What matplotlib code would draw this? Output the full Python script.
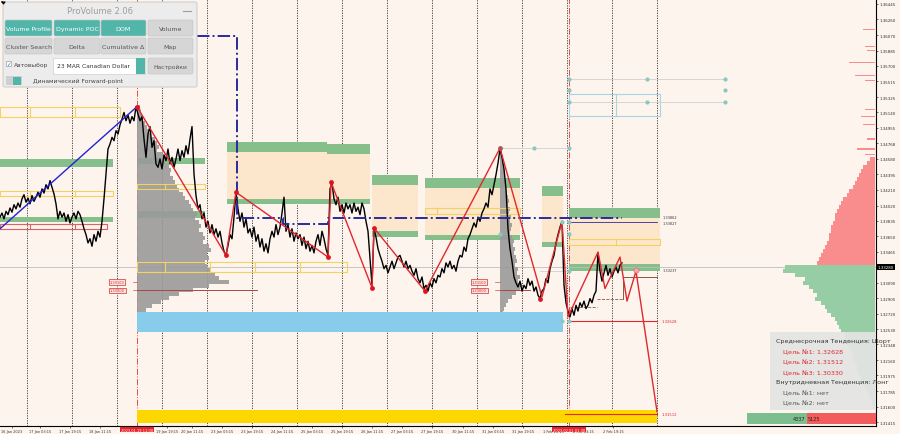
import numpy as np
import matplotlib.pyplot as plt
from matplotlib.patches import Rectangle, FancyBboxPatch

# ---------------- data ----------------
# price line, one value every 2 bars
close = [
    1.3388, 1.3393, 1.3386, 1.3395, 1.3391, 1.3399, 1.3394, 1.3403, 1.3398, 1.3405,
    1.3400, 1.3410, 1.3415, 1.3406, 1.3411, 1.3404, 1.3414, 1.3407, 1.3412, 1.3418,
    1.3412, 1.3422, 1.3417, 1.3427, 1.3422, 1.3432, 1.3424, 1.3416, 1.3404, 1.3386,
    1.3395, 1.3388, 1.3393, 1.3383, 1.3391, 1.3381, 1.3388, 1.3393, 1.3386, 1.3395,
    1.3391, 1.3383, 1.3374, 1.3367, 1.3357, 1.3362, 1.3353, 1.3367, 1.3359, 1.3371,
    1.3364, 1.3383, 1.3410, 1.3440, 1.3470, 1.3476, 1.3484, 1.3480, 1.3492, 1.3488,
    1.3499, 1.3506, 1.3514, 1.3504, 1.3511, 1.3501, 1.3509, 1.3504, 1.3521, 1.3512,
    1.3504, 1.3509, 1.3482, 1.3460, 1.3488, 1.3497, 1.3472, 1.3480, 1.3452, 1.3448,
    1.3458, 1.3446, 1.3463, 1.3456, 1.3470, 1.3452, 1.3460, 1.3448, 1.3458, 1.3470,
    1.3456, 1.3468, 1.3460, 1.3474, 1.3464, 1.3482, 1.3497, 1.3440, 1.3414, 1.3398,
    1.3403, 1.3386, 1.3393, 1.3376, 1.3383, 1.3369, 1.3379, 1.3367, 1.3374, 1.3364,
    1.3371, 1.3357, 1.3347, 1.3342, 1.3354, 1.3367, 1.3362, 1.3388, 1.3418, 1.3398,
    1.3383, 1.3393, 1.3376, 1.3386, 1.3369, 1.3374, 1.3364, 1.3376, 1.3359, 1.3367,
    1.3352, 1.3362, 1.3347, 1.3356, 1.3345, 1.3362, 1.3371, 1.3364, 1.3379, 1.3367,
    1.3376, 1.3393, 1.3412, 1.3371, 1.3379, 1.3364, 1.3374, 1.3359, 1.3369, 1.3362,
    1.3367, 1.3354, 1.3364, 1.3350, 1.3359, 1.3347, 1.3354, 1.3345, 1.3359, 1.3367,
    1.3354, 1.3371, 1.3362, 1.3350, 1.3342, 1.3422, 1.3429, 1.3410, 1.3403, 1.3412,
    1.3395, 1.3403, 1.3393, 1.3405, 1.3398, 1.3403, 1.3393, 1.3405, 1.3395, 1.3400,
    1.3391, 1.3405, 1.3398, 1.3383, 1.3371, 1.3338, 1.3306, 1.3374, 1.3364, 1.3350,
    1.3342, 1.3335, 1.3326, 1.3330, 1.3321, 1.3328, 1.3335, 1.3326, 1.3333, 1.3340,
    1.3342, 1.3335, 1.3328, 1.3335, 1.3326, 1.3330, 1.3323, 1.3318, 1.3326, 1.3314,
    1.3309, 1.3316, 1.3302, 1.3306, 1.3299, 1.3309, 1.3304, 1.3314, 1.3309, 1.3318,
    1.3316, 1.3326, 1.3321, 1.3333, 1.3328, 1.3335, 1.3326, 1.3330, 1.3323, 1.3335,
    1.3342, 1.3340, 1.3352, 1.3347, 1.3362, 1.3367, 1.3374, 1.3381, 1.3376, 1.3388,
    1.3383, 1.3393, 1.3398, 1.3405, 1.3400, 1.3422, 1.3415, 1.3427, 1.3439, 1.3453,
    1.3470, 1.3460, 1.3446, 1.3422, 1.3374, 1.3350, 1.3335, 1.3316, 1.3309, 1.3304,
    1.3311, 1.3299, 1.3306, 1.3302, 1.3314, 1.3306, 1.3311, 1.3299, 1.3304, 1.3294,
    1.3290, 1.3299, 1.3302, 1.3314, 1.3309, 1.3326, 1.3335, 1.3342, 1.3357, 1.3367,
    1.3376, 1.3383, 1.3306, 1.3285, 1.3275, 1.3268, 1.3278, 1.3270, 1.3282, 1.3275,
    1.3285, 1.3280, 1.3287, 1.3278, 1.3282, 1.3290, 1.3285, 1.3294, 1.3299, 1.3345,
    1.3323, 1.3311, 1.3321, 1.3330, 1.3318, 1.3326, 1.3316, 1.3323, 1.3328, 1.3321,
    1.3330, 1.3333,
]
bar_x = np.arange(len(close)) * 2

# zigzag
zz_x = [137, 226, 236, 328, 331, 372, 374, 425, 500, 542, 562, 568, 598, 605, 620, 627, 636, 657]
zz_p = [1.3521, 1.3342, 1.3418, 1.3340, 1.3430, 1.3303, 1.3375, 1.3299, 1.3471, 1.3292,
        1.3383, 1.3268, 1.3346, 1.3302, 1.3340, 1.3287, 1.3323, 1.3154]
dot_x = [137, 226, 236, 328, 331, 372, 374, 425, 540]
dot_p = [1.3521, 1.3342, 1.3418, 1.3340, 1.3430, 1.3303, 1.3375, 1.3299, 1.3290]

trend_x = [0, 137]
trend_p = [1.3374, 1.3521]

navy_x = [197, 237, 237, 283, 283, 328, 328, 622]
navy_p = [1.3606, 1.3606, 1.3387, 1.3387, 1.3380, 1.3380, 1.3387, 1.3387]

# zones: x0, x1, upper price, lower price
green_zones = [
    (0, 113, 1.3458, 1.3448), (0, 113, 1.3388, 1.3382),
    (137, 205, 1.3459, 1.3452), (137, 205, 1.3396, 1.3387),
    (227, 327, 1.3478, 1.3466), (327, 370, 1.3476, 1.3464), (227, 370, 1.3410, 1.3404),
    (372, 418, 1.3439, 1.3427), (372, 418, 1.3371, 1.3364),
    (425, 520, 1.3435, 1.3423), (425, 520, 1.3367, 1.3361),
    (542, 563, 1.3426, 1.3414), (542, 563, 1.3358, 1.3352),
    (569, 660, 1.3399, 1.3387), (569, 660, 1.3332, 1.3323),
]
orange_zones = [
    (227, 370, 1.3466, 1.3410), (372, 418, 1.3427, 1.3371), (425, 520, 1.3423, 1.3367),
    (542, 563, 1.3414, 1.3358), (569, 660, 1.3387, 1.3332),
]
yellow_boxes = [
    (0, 120, 1.3521, 1.3509, [30, 75]),
    (0, 113, 1.3420, 1.3414, [30, 75]),
    (137, 205, 1.3428, 1.3422, [165]),
    (137, 347, 1.3334, 1.3322, [165, 210, 255, 300]),
    (425, 520, 1.3399, 1.3392, [437]),
    (569, 660, 1.3362, 1.3354, [616]),
]
red_box = (0, 107, 1.3380, 1.3374, [30, 75])
blue_box = (569, 660, 1.3536, 1.3510, [616])
sky_zone = (137, 563, 1.3274, 1.3250)
gold_zone = (137, 657, 1.3156, 1.3140)

# volume profiles (bin size 0.00048)
prof_step = 0.00048
left_prof_top = 1.3521
left_prof = [3, 4, 5, 6, 8, 10, 12, 14, 18, 20, 22, 20, 26, 30, 28, 32, 34, 33, 36, 38,
             40, 42, 46, 48, 52, 54, 56, 60, 58, 62, 64, 62, 66, 68, 66, 72, 74, 70, 72, 68,
             70, 74, 78, 82, 92, 72, 56, 42, 32, 24, 15, 9, 6, 4, 3, 2, 2]
mid_prof_top = 1.3470
mid_prof = [2, 2, 3, 3, 3, 4, 4, 5, 5, 6, 6, 7, 8, 9, 8, 10, 9, 11, 10, 12,
            11, 10, 12, 14, 13, 15, 14, 16, 17, 15, 18, 17, 20, 18, 22, 20, 16, 12, 8, 6,
            4, 3, 2]
red_prof_top = 1.3458
red_prof = [5, 8, 12, 14, 16, 18, 20, 22, 26, 28, 32, 34, 36, 38, 40, 40, 42, 44, 44, 46,
            46, 48, 50, 52, 54, 56, 58]
green_prof_top = 1.3328
green_prof = [90, 92, 80, 70, 72, 66, 62, 58, 60, 54, 50, 48, 44, 40, 38, 36, 34, 30, 30, 28,
              26, 24, 22, 22, 20, 18, 18, 16, 14, 12, 10, 8, 6, 4, 3, 2]
red_sparse_p = [1.3614, 1.3593, 1.3588, 1.3574, 1.3559, 1.3552, 1.3518, 1.3509, 1.3499, 1.3482, 1.3470, 1.3463]
red_sparse_w = [12, 10, 8, 26, 20, 10, 10, 14, 12, 8, 18, 10]

buy_vol, sell_vol = 4337, 5125
current_price = 1.33280
targets = [1.32628, 1.31512, 1.30330]

teal_x = [569, 647, 725, 569, 725, 569, 647, 725, 534, 569, 569, 562, 569, 569, 562, 569, 500]
teal_p = [1.3554, 1.3554, 1.3554, 1.3541, 1.3541, 1.3527, 1.3527, 1.3527, 1.3471, 1.3471,
          1.3382, 1.3382, 1.3368, 1.3323, 1.3263, 1.3263, 1.3368]

grid_x = [27, 72, 117, 162, 207, 252, 297, 342, 387, 432, 477, 522, 567, 612, 657]
xtick_pos = [12, 40, 70, 100, 167, 192, 222, 252, 282, 312, 342, 372, 402, 432,
             463, 493, 523, 553, 583, 613]
xtick_lab = ['16 Jan 2023', '17 Jan 03:15', '17 Jan 19:15', '18 Jan 11:15', '19 Jan 19:15',
             '20 Jan 11:15', '23 Jan 03:15', '23 Jan 19:15', '24 Jan 11:15', '25 Jan 03:15',
             '25 Jan 19:15', '26 Jan 11:15', '27 Jan 03:15', '27 Jan 19:15', '30 Jan 11:15',
             '31 Jan 03:15', '31 Jan 19:15', '1 Feb 11:15', '2 Feb 03:15', '2 Feb 19:15']
red_dates = [(137, '2023.01.19 11:00'), (569, '2023.02.01 01:30')]
ytick_vals = [1.36445, 1.36260, 1.36070, 1.35885, 1.35700, 1.35515, 1.35325, 1.35140,
              1.34955, 1.34768, 1.34580, 1.34395, 1.34210, 1.34020, 1.33835, 1.33650,
              1.33465, 1.33090, 1.32905, 1.32720, 1.32530, 1.32348, 1.32160, 1.31975,
              1.31785, 1.31600, 1.31415]

# ---------------- plot ----------------
bg = '#FDF4EE'
fig = plt.figure(figsize=(9, 4.35), dpi=100, facecolor=bg)
ax = fig.add_axes([0, 8 / 435, 876 / 900, 427 / 435])
ax.set_facecolor(bg)
ax.set_xlim(0, 876)
ax.set_ylim(1.31367, 1.36505)

for g in grid_x:
    ax.axvline(g, color='#333333', lw=0.6, ls=(0, (1.5, 1.5)), zorder=1)
for x, _ in red_dates:
    ax.axvline(x, color='#E05050', lw=0.7, ls='-.', zorder=1.2)

for x0, x1, top, bot in orange_zones:
    ax.add_patch(Rectangle((x0, bot), x1 - x0, top - bot, fc='#FCE7CC', ec='none', zorder=1.1))
for x0, x1, top, bot in green_zones:
    ax.add_patch(Rectangle((x0, bot), x1 - x0, top - bot, fc='#86BE8C', ec='none', zorder=1.3))

# gray profiles
lv = left_prof_top - prof_step * np.arange(len(left_prof))
ax.barh(lv, left_prof, left=137, height=prof_step, color='#9A9A9A', alpha=0.9, lw=0, zorder=2)
mv = mid_prof_top - prof_step * np.arange(len(mid_prof))
ax.barh(mv, mid_prof, left=500, height=prof_step, color='#9A9A9A', alpha=0.9, lw=0, zorder=2)

ax.add_patch(Rectangle((sky_zone[0], sky_zone[3]), sky_zone[1] - sky_zone[0],
                       sky_zone[2] - sky_zone[3], fc='#87CDEB', ec='none', zorder=2.5))
ax.add_patch(Rectangle((gold_zone[0], gold_zone[3]), gold_zone[1] - gold_zone[0],
                       gold_zone[2] - gold_zone[3], fc='#FFD700', ec='none', zorder=2.5))


def outline(box, color):
    x0, x1, top, bot, divs = box
    ax.add_patch(Rectangle((x0, bot), x1 - x0, top - bot, fill=False, ec=color, lw=0.8, zorder=2.6))
    for d in divs:
        ax.plot([d, d], [bot, top], color=color, lw=0.8, zorder=2.6)


for b in yellow_boxes:
    outline(b, '#F2D35E')
outline(red_box, '#E06060')
outline(blue_box, '#A6D5E4')

# right-hand volume profile
rv = red_prof_top - prof_step * np.arange(len(red_prof))
ax.barh(rv, red_prof, left=875 - np.array(red_prof), height=prof_step, color='#F98C8C', lw=0, zorder=2)
gv = green_prof_top - prof_step * np.arange(len(green_prof))
ax.barh(gv, green_prof, left=875 - np.array(green_prof), height=prof_step, color='#96CDA5', lw=0, zorder=2)
ax.barh(red_sparse_p, red_sparse_w, left=875 - np.array(red_sparse_w), height=0.00013,
        color='#F98C8C', lw=0, zorder=2)

# bottom buy/sell bar
tot = buy_vol + sell_vol
wb = 130 * buy_vol / tot
ws = 130 * sell_vol / tot
ax.barh([1.31457], [wb], left=747, height=0.0013, color='#7DBE8F', lw=0, zorder=3)
ax.barh([1.31457], [ws], left=747 + wb, height=0.0013, color='#F25C5C', lw=0, zorder=3)
ax.text(747 + wb - 1, 1.31457, str(buy_vol), fontsize=3.6, ha='right', va='center', color='#222', zorder=8)
ax.text(747 + wb + 1, 1.31457, str(sell_vol), fontsize=3.6, ha='left', va='center', color='#222', zorder=8)

# level lines
ax.axhline(current_price, color='#BDBDBD', lw=0.6, zorder=1.5)
ax.plot([569, 657], [targets[0], targets[0]], color='#E0282E', lw=0.8, zorder=4)
ax.plot([565, 657], [targets[1], targets[1]], color='#E0282E', lw=0.8, zorder=4)
ax.text(662, targets[0], '%.5f' % targets[0], fontsize=2.7, color='#E0282E', va='center')
ax.text(662, targets[1], '%.5f' % targets[1], fontsize=2.7, color='#E0282E', va='center')
ax.plot([569, 657], [1.3382, 1.3382], color='#2A2A9C', lw=0.6, zorder=4)
ax.text(663, 1.3388, '1.33862', fontsize=2.5, color='#333', va='center')
ax.text(663, 1.3381, '1.33827', fontsize=2.5, color='#333', va='center')
ax.text(663, 1.3325, '1.33237', fontsize=2.5, color='#333', va='center')
ax.plot([570, 597], [1.3280, 1.3280], color='#8B5A3C', lw=0.6, ls='--', zorder=4)
ax.plot([597, 623], [1.3290, 1.3290], color='#8B5A3C', lw=0.6, ls='--', zorder=4)
ax.plot([623, 623, 657], [1.3290, 1.3316, 1.3316], color='#8B5A3C', lw=0.7, zorder=4)

# POC labels
for xl, x0, x1 in [(110, 137, 257), (472, 500, 530)]:
    ax.plot([x0, x1], [1.3300, 1.3300], color='#B04545', lw=0.7, zorder=4)
    for pv in (1.33100, 1.33000):
        ax.plot([xl + 23, x0], [pv, pv], color='#D05050', lw=0.5, zorder=4)
        ax.text(xl, pv, '%.5f' % pv, fontsize=2.6, color='#D03030', va='center', zorder=8,
                bbox=dict(boxstyle='square,pad=0.15', fc='#FCE4E0', ec='#D03030', lw=0.5))

# teal markers
ax.plot([569, 725], [1.3554, 1.3554], color='#D6D6D6', lw=0.7, zorder=3)
ax.plot([569, 725], [1.3527, 1.3527], color='#D6D6D6', lw=0.7, zorder=3)
ax.plot([500, 569], [1.3471, 1.3471], color='#D6D6D6', lw=0.7, zorder=3)
ax.plot([540, 569], [1.3323, 1.3323], color='#D6D6D6', lw=0.7, zorder=3)
ax.scatter(teal_x, teal_p, s=9, color='#8AC6C2', zorder=7, lw=0)

# price, trend, zigzag
ax.plot(bar_x, close, color='black', lw=1.0, zorder=5)
ax.plot(trend_x, trend_p, color='#2323D6', lw=1.0, zorder=6)
ax.plot(navy_x, navy_p, color='#2A2A9C', lw=1.4, ls='-.', zorder=6)
ax.plot(zz_x, zz_p, color='#E0282E', lw=1.0, zorder=6)
ax.scatter(dot_x, dot_p, s=12, color='#E0141E', zorder=7, lw=0)
ax.scatter([500], [1.3471], s=12, color='#B35050', zorder=7, lw=0)
ax.scatter([636], [1.3325], s=14, color='#F4A6A6', ec='#E07070', lw=0.5, zorder=7)

# axes
for s in ('left', 'top'):
    ax.spines[s].set_visible(False)
ax.spines['right'].set_linewidth(0.8)
ax.spines['bottom'].set_linewidth(0.8)
ax.yaxis.tick_right()
ax.set_yticks(ytick_vals)
ax.set_yticklabels(['%.5f' % v for v in ytick_vals])
ax.set_xticks(xtick_pos)
ax.set_xticklabels(xtick_lab)
ax.tick_params(axis='x', labelsize=2.5, length=1.5, width=0.5, pad=1.0, colors='#333333')
ax.tick_params(axis='y', labelsize=2.9, length=1.5, width=0.5, pad=1.2, colors='#333333')
ax.text(877.5, current_price, '%.5f' % current_price, fontsize=2.9, color='white', va='center',
        ha='left', zorder=9, bbox=dict(boxstyle='square,pad=0.2', fc='black', ec='none'))
for x, lab in red_dates:
    ax.text(x, -0.004, lab, transform=ax.get_xaxis_transform(), fontsize=2.6, color='white',
            ha='center', va='top', zorder=9,
            bbox=dict(boxstyle='square,pad=0.2', fc='#E8202A', ec='none'))

# ---------------- overlays (pixel coords) ----------------
ov = fig.add_axes([0, 0, 1, 1])
ov.set_xlim(0, 900)
ov.set_ylim(435, 0)
ov.axis('off')
ov.patch.set_alpha(0)
ov.set_zorder(5)

ov.add_patch(FancyBboxPatch((3, 3), 194, 85, boxstyle='round,pad=0,rounding_size=2',
                            fc='#ECECEC', ec='#CFCFCF', lw=0.8))
ov.text(100, 11, 'ProVolume 2.06', fontsize=6, color='#9E9E9E', ha='center', va='center')
ov.plot([183, 191], [12, 12], color='#9E9E9E', lw=0.8)
ov.plot([2, 5, 3.5, 2], [3, 3, 5, 3], color='black', lw=0.8)

teal = '#52B5AA'
btn_cols = [(5, 52), (54, 100), (101, 146), (148, 193)]
row1 = [('Volume Profile', teal), ('Dynamic POC', teal), ('DOM', teal), ('Volume', '#D6D6D6')]
row2 = [('Cluster Search', '#D6D6D6'), ('Delta', '#D6D6D6'), ('Cumulative Δ', '#D6D6D6'), ('Map', '#D6D6D6')]
for (lab, col), (x0, x1) in zip(row1, btn_cols):
    ov.add_patch(FancyBboxPatch((x0, 21), x1 - x0, 16, boxstyle='round,pad=0,rounding_size=1.5',
                                fc=col, ec='#C4C4C4', lw=0.4))
    ov.text((x0 + x1) / 2, 29.5, lab, fontsize=4.5, ha='center', va='center',
            color='white' if col == teal else '#555555')
for (lab, col), (x0, x1) in zip(row2, btn_cols):
    ov.add_patch(FancyBboxPatch((x0, 39), x1 - x0, 16, boxstyle='round,pad=0,rounding_size=1.5',
                                fc=col, ec='#C4C4C4', lw=0.4))
    ov.text((x0 + x1) / 2, 47.5, lab, fontsize=4.5, ha='center', va='center', color='#555555')

ov.add_patch(Rectangle((6, 62), 5, 5, fc='white', ec='#888888', lw=0.4))
ov.text(8.5, 64.5, '✓', fontsize=4, ha='center', va='center', color='#2A7F9C')
ov.text(14, 65, 'Автовыбор', fontsize=4.3, va='center', color='#444444')
ov.add_patch(Rectangle((53, 59), 92, 16, fc='white', ec='#C8C8C8', lw=0.4))
ov.add_patch(Rectangle((136, 59), 9, 16, fc=teal, ec='none'))
ov.text(57, 67, '23 MAR Canadian Dollar', fontsize=4.3, va='center', color='#333333')
ov.add_patch(FancyBboxPatch((148, 59), 45, 16, boxstyle='round,pad=0,rounding_size=1.5',
                            fc='#D6D6D6', ec='#C4C4C4', lw=0.4))
ov.text(170.5, 67, 'Настройки', fontsize=4.3, ha='center', va='center', color='#555555')
ov.add_patch(Rectangle((6, 77), 16, 9, fc='#CFCFCF', ec='none'))
ov.add_patch(Rectangle((13, 77.5), 8, 8, fc=teal, ec='none'))
ov.text(33, 81.5, 'Динамический Forward-point', fontsize=4.3, va='center', color='#444444')

# trend info box
ov.add_patch(Rectangle((770, 333), 106, 78, fc='#E4E4E4', ec='none', alpha=0.93))
info = [
    (776, 342, 'Среднесрочная Тенденция: Шорт', '#333333'),
    (783, 352.5, 'Цель №1: %.5f' % targets[0], '#E0282E'),
    (783, 362.5, 'Цель №2: %.5f' % targets[1], '#E0282E'),
    (783, 373, 'Цель №3: %.5f' % targets[2], '#E0282E'),
    (776, 383, 'Внутридневная Тенденция: Лонг', '#333333'),
    (783, 393, 'Цель №1: нет', '#555555'),
    (783, 403, 'Цель №2: нет', '#555555'),
]
for x, y, t, c in info:
    ov.text(x, y, t, fontsize=4.6, color=c, va='center')

fig.savefig('out.png', dpi=100, facecolor=bg)
